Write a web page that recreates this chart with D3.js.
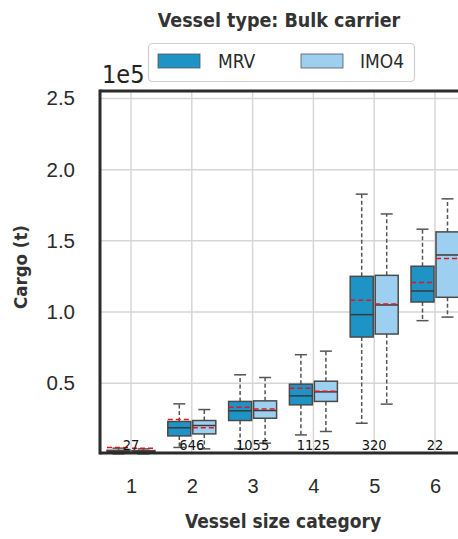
<!DOCTYPE html>
<html><head><meta charset="utf-8">
<script src="https://cdn.jsdelivr.net/npm/d3@7"></script>
<style>
html,body{margin:0;padding:0;background:#fff;}
svg{display:block;font-family:"DejaVu Sans Condensed","DejaVu Sans",sans-serif;}
</style></head>
<body><svg id="c" width="458" height="539"></svg>
<script>
// ---- data (values in units of 1e5 t) ----
const categories = ["1","2","3","4","5","6"];
const counts = [27, 646, 1055, 1125, 320, 22];
// MRV box statistics
const mrvLow  = [0.005, 0.05, 0.04, 0.138, 0.22, 0.94];
const mrvQ1   = [0.012, 0.131, 0.239, 0.349, 0.825, 1.071];
const mrvMed  = [0.02, 0.188, 0.307, 0.412, 0.982, 1.148];
const mrvQ3   = [0.03, 0.232, 0.373, 0.494, 1.251, 1.322];
const mrvHigh = [0.045, 0.356, 0.56, 0.701, 1.828, 1.582];
const mrvMean = [0.05, 0.246, 0.333, 0.466, 1.083, 1.207];
// IMO4 box statistics
const imoLow  = [0.005, 0.04, 0.08, 0.162, 0.354, 0.965];
const imoQ1   = [0.012, 0.145, 0.255, 0.373, 0.846, 1.104];
const imoMed  = [0.02, 0.204, 0.309, 0.44, 1.05, 1.401];
const imoQ3   = [0.028, 0.239, 0.377, 0.515, 1.258, 1.563];
const imoHigh = [0.04, 0.316, 0.541, 0.726, 1.689, 1.795];
const imoMean = [0.045, 0.188, 0.319, 0.445, 1.057, 1.376];
const yTicks = [0.5, 1.0, 1.5, 2.0, 2.5];
const seriesNames = ["MRV", "IMO4"];
const seriesColors = ["#1e93c6", "#9dd0f0"];

const svg = d3.select("#c");
const L = 100, T = 91, B = 453, R = 466;
const x = d3.scalePoint().domain(categories).range([L + 0.6, 465.4]).padding(0.5);
const y = d3.scaleLinear().domain([0.011, 2.552]).range([B, T]);

// grid
const g = svg.append("g");
g.selectAll(".vg").data(categories).join("line")
  .attr("x1", d => x(d)).attr("x2", d => x(d)).attr("y1", T).attr("y2", B)
  .attr("stroke", "#d6d6d6").attr("stroke-width", 1.5);
g.selectAll(".hg").data(yTicks).join("line")
  .attr("x1", L).attr("x2", R + 20).attr("y1", d => y(d)).attr("y2", d => y(d))
  .attr("stroke", "#d6d6d6").attr("stroke-width", 1.5);

// boxes
const bw = 23, gap = 1;
const series = [
  {name: "MRV", color: seriesColors[0], off: -gap - bw, low: mrvLow, q1: mrvQ1, med: mrvMed, q3: mrvQ3, high: mrvHigh, mean: mrvMean},
  {name: "IMO4", color: seriesColors[1], off: gap, low: imoLow, q1: imoQ1, med: imoMed, q3: imoQ3, high: imoHigh, mean: imoMean}
];
series.forEach(s => {
  const sg = svg.append("g");
  categories.forEach((c, i) => {
    const x0 = x(c) + s.off, xc = x0 + bw / 2;
    sg.append("line").attr("x1", xc).attr("x2", xc).attr("y1", y(s.q3[i])).attr("y2", y(s.high[i]))
      .attr("stroke", "#555").attr("stroke-width", 1.5).attr("stroke-dasharray", "4,2.5");
    sg.append("line").attr("x1", xc).attr("x2", xc).attr("y1", y(s.q1[i])).attr("y2", y(s.low[i]))
      .attr("stroke", "#555").attr("stroke-width", 1.5).attr("stroke-dasharray", "4,2.5");
    [s.high[i], s.low[i]].forEach(v => {
      sg.append("line").attr("x1", xc - 6).attr("x2", xc + 6).attr("y1", y(v)).attr("y2", y(v))
        .attr("stroke", "#555").attr("stroke-width", 1.5);
    });
    sg.append("rect").attr("x", x0).attr("width", bw)
      .attr("y", y(s.q3[i])).attr("height", Math.max(0.5, y(s.q1[i]) - y(s.q3[i])))
      .attr("fill", s.color).attr("stroke", "#4a4a4a").attr("stroke-width", 1.5);
    sg.append("line").attr("x1", x0).attr("x2", x0 + bw).attr("y1", y(s.med[i])).attr("y2", y(s.med[i]))
      .attr("stroke", "#3a3a3a").attr("stroke-width", 1.5);
    sg.append("line").attr("x1", x0).attr("x2", x0 + bw).attr("y1", y(s.mean[i])).attr("y2", y(s.mean[i]))
      .attr("stroke", "#e8141c").attr("stroke-width", 1.5).attr("stroke-dasharray", "5,3");
  });
});

// counts
svg.append("g").selectAll("text").data(categories).join("text")
  .attr("x", d => x(d)).attr("y", 450).attr("text-anchor", "middle")
  .attr("font-size", 14.5).attr("fill", "#111").text((d, i) => counts[i]);

// frame
svg.append("line").attr("x1", L).attr("x2", R + 20).attr("y1", T).attr("y2", T).attr("stroke", "#2b2b2b").attr("stroke-width", 3);
svg.append("line").attr("x1", L).attr("x2", R + 20).attr("y1", B).attr("y2", B).attr("stroke", "#2b2b2b").attr("stroke-width", 3);
svg.append("line").attr("x1", L).attr("x2", L).attr("y1", T - 1.5).attr("y2", B + 1.5).attr("stroke", "#2b2b2b").attr("stroke-width", 3);

// axes
const ax = svg.append("g").attr("transform", `translate(0,${B})`)
  .call(d3.axisBottom(x).tickSize(0).tickPadding(26));
ax.select(".domain").remove();
ax.selectAll("text").attr("font-size", 20).attr("fill", "#2a2a2a").attr("font-family", null);
const ay = svg.append("g").attr("transform", `translate(${L},0)`)
  .call(d3.axisLeft(y).tickValues(yTicks).tickFormat(d3.format(".1f")).tickSize(0).tickPadding(25));
ay.select(".domain").remove();
ay.selectAll("text").attr("font-size", 20.5).attr("fill", "#2a2a2a").attr("font-family", null);

// labels
svg.append("text").attr("x", 283).attr("y", 528).attr("text-anchor", "middle")
  .attr("font-size", 19).attr("font-weight", "bold").attr("fill", "#333").text("Vessel size category");
svg.append("text").attr("transform", "translate(27,267) rotate(-90)").attr("text-anchor", "middle")
  .attr("font-size", 18.5).attr("font-weight", "bold").attr("fill", "#333").text("Cargo (t)");
svg.append("text").attr("x", 279).attr("y", 27).attr("text-anchor", "middle")
  .attr("font-size", 19.5).attr("font-weight", "bold").attr("fill", "#333").text("Vessel type: Bulk carrier");
svg.append("text").attr("x", 102).attr("y", 83).attr("font-size", 25).attr("fill", "#222").text("1e5");

// legend
const lg = svg.append("g");
lg.append("rect").attr("x", 148.5).attr("y", 43.5).attr("width", 266).attr("height", 38).attr("rx", 4)
  .attr("fill", "#fff").attr("stroke", "#cfcfcf").attr("stroke-width", 1.2);
const legX = [158, 301], legT = [218, 360];
seriesNames.forEach((n, i) => {
  lg.append("rect").attr("x", legX[i]).attr("y", 54).attr("width", 42).attr("height", 14)
    .attr("fill", seriesColors[i]).attr("stroke", "#555").attr("stroke-width", 0.8);
  lg.append("text").attr("x", legT[i]).attr("y", 68).attr("font-size", 19).attr("fill", "#2a2a2a").text(n);
});
</script></body></html>
